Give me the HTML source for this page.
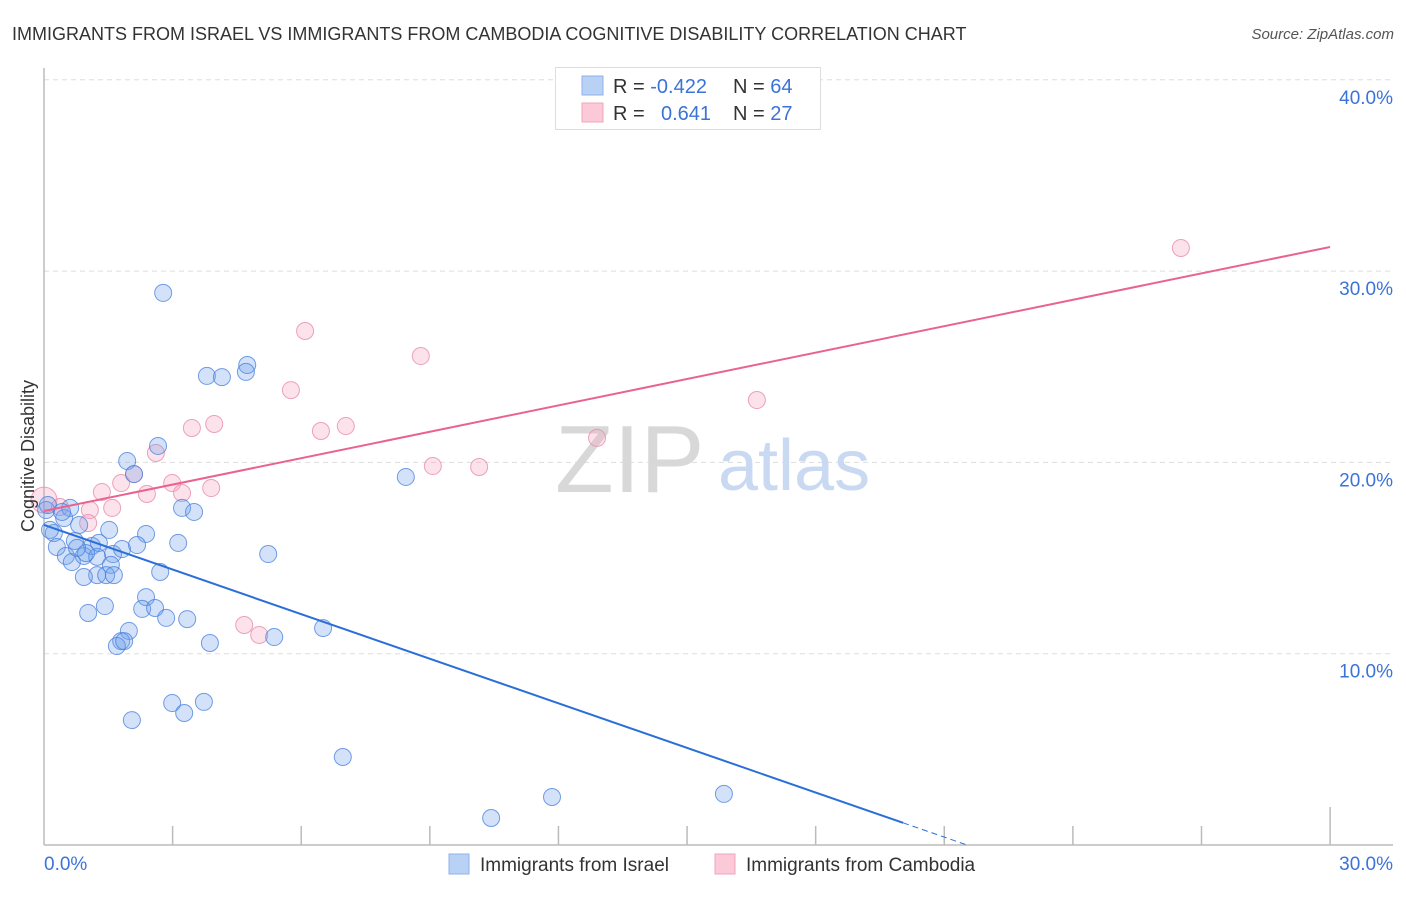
<!DOCTYPE html>
<html><head><meta charset="utf-8"><style>
body{margin:0;background:#fff;font-family:"Liberation Sans",sans-serif;}
svg text{font-family:"Liberation Sans",sans-serif;}
</style></head><body>
<svg id="chart" width="1406" height="892" viewBox="0 0 1406 892" xmlns="http://www.w3.org/2000/svg">
<text x="12" y="40" font-size="18" fill="#333">IMMIGRANTS FROM ISRAEL VS IMMIGRANTS FROM CAMBODIA COGNITIVE DISABILITY CORRELATION CHART</text>
<text x="1394" y="39" font-size="15" fill="#555" font-style="italic" text-anchor="end">Source: ZipAtlas.com</text>
<g id="grid"></g>
<g>
<text x="555" y="492" font-size="96" fill="#d8d8d8" font-family="Liberation Serif, serif">ZIP</text>
<text x="718" y="490" font-size="72" fill="#c9d9f2">atlas</text>
</g>
<g id="axes"></g>
<g id="points"></g>
<g id="trends"></g>
<text transform="translate(34,456) rotate(-90)" font-size="18" fill="#333" text-anchor="middle">Cognitive Disability</text>
<g>
<rect x="555.5" y="67.5" width="265" height="62" fill="#fff" stroke="#ddd"/>
<rect x="582" y="76" width="21" height="19" fill="#b9d1f5" stroke="#8eb2ea"/>
<rect x="582" y="103" width="21" height="19" fill="#fbc9d8" stroke="#f0a4bd"/>
<text x="613" y="93" font-size="20" fill="#333">R = <tspan fill="#3b73d9">-0.422</tspan></text>
<text x="733" y="93" font-size="20" fill="#333">N = <tspan fill="#3b73d9">64</tspan></text>
<text x="613" y="120" font-size="20" fill="#333">R = <tspan x="661" fill="#3b73d9">0.641</tspan></text>
<text x="733" y="120" font-size="20" fill="#333">N = <tspan fill="#3b73d9">27</tspan></text>
</g>
<g>
<rect x="449" y="854" width="20" height="20" fill="#b9d1f5" stroke="#8eb2ea"/>
<text x="480" y="871" font-size="19" fill="#333">Immigrants from Israel</text>
<rect x="715" y="854" width="20" height="20" fill="#fbc9d8" stroke="#f0a4bd"/>
<text x="746" y="871" font-size="19" fill="#333">Immigrants from Cambodia</text>
</g>
</svg>
<script>
const israelX=[2.78,3.80,4.15,4.74,4.71,2.66,1.94,2.10,8.44,3.22,3.50,1.52,2.38,3.13,0.23,0.05,0.30,0.47,0.61,0.82,0.72,0.51,0.65,0.93,1.12,1.24,1.28,1.61,1.82,2.17,5.23,1.56,1.24,0.93,1.45,1.63,2.71,1.42,1.03,2.38,2.29,2.59,2.85,3.34,1.98,1.80,1.70,1.87,3.87,5.37,6.51,2.99,3.73,3.27,2.05,6.97,11.85,15.86,10.43,0.09,0.42,0.98,0.77,0.14];
const israelY=[28.86,24.52,24.46,25.09,24.73,20.86,20.07,19.39,19.24,17.62,17.41,16.47,16.26,15.79,16.31,17.51,15.58,17.09,17.62,16.73,15.89,15.11,14.79,15.11,15.63,15.06,15.79,15.21,15.47,15.68,15.21,14.64,14.11,14.01,14.11,14.11,14.27,12.49,12.13,12.96,12.34,12.39,11.87,11.81,11.19,10.66,10.40,10.66,10.56,10.87,11.34,7.42,7.48,6.90,6.53,4.60,2.51,2.67,1.41,17.77,17.41,15.26,15.53,16.47];
const cambodiaX=[0.0,0.37,1.07,1.35,1.59,1.80,2.10,2.40,2.61,2.99,3.22,3.45,3.90,3.97,4.67,5.02,5.76,6.09,6.46,7.04,8.79,9.07,10.15,12.90,16.63,26.52,1.03];
const cambodiaY=[18.03,17.67,17.51,18.45,17.62,18.92,19.39,18.35,20.49,18.92,18.40,21.80,18.66,22.01,11.50,10.98,23.78,26.87,21.64,21.90,25.56,19.81,19.76,21.28,23.26,31.21,16.83];
const israelTrend=[16.73,-0.777];
const cambodiaTrend=[17.46,0.46];
const yTicks=[10,20,30,40];
const xTickLabels=["0.0%","30.0%"];
const NS="http://www.w3.org/2000/svg";
const sx=v=>44+v*42.87;
const sy=v=>845-v*19.13;
function mk(tag,attrs,parent){const e=document.createElementNS(NS,tag);for(const k in attrs)e.setAttribute(k,attrs[k]);parent.appendChild(e);return e;}
const grid=document.getElementById('grid'),axes=document.getElementById('axes'),pts=document.getElementById('points'),tr=document.getElementById('trends');
yTicks.forEach(t=>{
 const l=mk('line',{x1:44,x2:1393,y1:sy(t),y2:sy(t),stroke:'#ddd','stroke-dasharray':'5,4'},grid);
 
 
 const tx=mk('text',{x:1393,y:sy(t)+24,'font-size':19,fill:'#3b73d9','text-anchor':'end'},grid);
 tx.textContent=t.toFixed(1)+'%';
 
 
});
let a=mk('line',{x1:44,x2:44,y1:68,y2:845,stroke:'#bbb','stroke-width':1.5},axes);


a=mk('line',{x1:44,x2:1393,y1:845,y2:845,stroke:'#bbb','stroke-width':1.5},axes);


for(let i=1;i<=10;i++){
 const v=i*3;
 const t=mk('line',{x1:sx(v),x2:sx(v),y1:i==10?807:826,y2:845,stroke:'#bbb','stroke-width':1.5},axes);
 
 
}
[[0,'start',44],[30,'end',1393]].forEach((d,i)=>{
 const t=mk('text',{x:d[2],y:870,'font-size':19,fill:'#3b73d9','text-anchor':d[1]},axes);
 t.textContent=xTickLabels[i];
 
 
});
cambodiaX.forEach((x,i)=>{
 const c=mk('circle',{cx:sx(x),cy:sy(cambodiaY[i]),r:i==0?13:8.5,fill:'rgba(245,160,190,0.3)',stroke:'rgba(232,140,172,0.8)','stroke-width':1},pts);
 
 
});
israelX.forEach((x,i)=>{
 const c=mk('circle',{cx:sx(x),cy:sy(israelY[i]),r:8.5,fill:'rgba(110,160,235,0.3)',stroke:'rgba(70,125,220,0.75)','stroke-width':1},pts);
 
 
});
let l=mk('line',{x1:sx(0),y1:sy(cambodiaTrend[0]),x2:sx(30),y2:sy(cambodiaTrend[0]+30*cambodiaTrend[1]),stroke:'#e8638f','stroke-width':2},tr);


const xEnd=20.04, xZero=-israelTrend[0]/israelTrend[1];
l=mk('line',{x1:sx(0),y1:sy(israelTrend[0]),x2:sx(xEnd),y2:sy(israelTrend[0]+xEnd*israelTrend[1]),stroke:'#2a6fd8','stroke-width':2},tr);


l=mk('line',{x1:sx(xEnd),y1:sy(israelTrend[0]+xEnd*israelTrend[1]),x2:sx(xZero),y2:sy(0),stroke:'#2a6fd8','stroke-width':1,'stroke-dasharray':'6,4'},tr);


</script>
</body></html>
